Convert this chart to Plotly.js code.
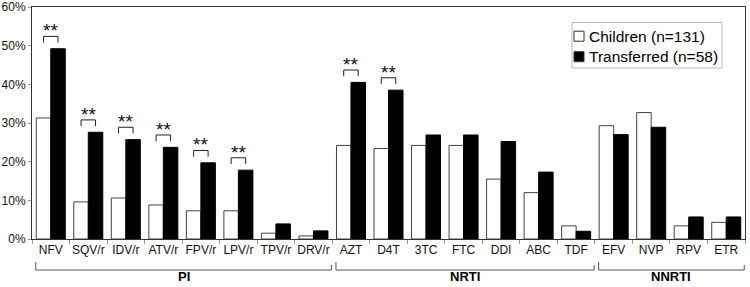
<!DOCTYPE html>
<html><head><meta charset="utf-8">
<script src="https://cdn.plot.ly/plotly-3.0.1.min.js"></script>
<style>html,body{margin:0;padding:0;background:#fff}#chart{width:750px;height:287px}</style>
</head><body><div id="chart"></div>
<script>
const categories = ['NFV','SQV/r','IDV/r','ATV/r','FPV/r','LPV/r','TPV/r','DRV/r','AZT','D4T','3TC','FTC','DDI','ABC','TDF','EFV','NVP','RPV','ETR'];
const children    = [31.3, 9.6, 10.6, 8.8, 7.3, 7.3, 1.5, 0.8, 24.2, 23.4, 24.2, 24.2, 15.5, 12.0, 3.4, 29.3, 32.7, 3.4, 4.3];
const transferred = [49.2, 27.6, 25.7, 23.7, 19.7, 17.8, 3.9, 2.1, 40.5, 38.5, 26.9, 26.9, 25.2, 17.3, 2.0, 27.0, 28.9, 5.7, 5.7];
const significant = [true,true,true,true,true,true,false,false,true,true,false,false,false,false,false,false,false,false,false];
const seriesNames = ['Children (n=131)','Transferred (n=58)'];
const groupNames = ['PI','NRTI','NNRTI'];
const groupSizes = [8,7,4];
const yTickVals = [0,10,20,30,40,50,60];
const yTickText = ['0%','10%','20%','30%','40%','50%','60%'];
const sigLabel = '**';

const W=750, H=287, M={l:32,r:5,t:7,b:48};
const PW = W-M.l-M.r, PH = H-M.t-M.b;
const nCat = categories.length;
const px = v => (v - M.l)/PW;
const py = v => (M.t+PH - v)/PH;
const catX = u => (u+0.5)/nCat;
const FONT = 'Liberation Sans, Arial, sans-serif';

const traces = [
  {type:'bar', x:categories, y:children, name:seriesNames[0], showlegend:false,
   marker:{color:'#ffffff', line:{color:'#444', width:1}}},
  {type:'bar', x:categories, y:transferred, name:seriesNames[1], showlegend:false,
   marker:{color:'#000000', line:{color:'#000', width:1}}}
];

const shapes = [];
const annotations = [];
const off = 0.193;
categories.forEach((c,i)=>{
  if(!significant[i]) return;
  const top = Math.max(children[i], transferred[i]) + 3.2;
  const L = {color:'#222', width:1};
  const xa = catX(i-off), xb = catX(i+off);
  shapes.push({type:'line', xref:'paper', yref:'y', x0:xa, x1:xb, y0:top, y1:top, line:L});
  shapes.push({type:'line', xref:'paper', yref:'y', x0:xa, x1:xa, y0:top-1.6, y1:top, line:L});
  shapes.push({type:'line', xref:'paper', yref:'y', x0:xb, x1:xb, y0:top-1.6, y1:top, line:L});
  annotations.push({xref:'paper', yref:'y', x:catX(i), y:top, yanchor:'bottom', xanchor:'center',
    text:sigLabel, showarrow:false, yshift:-7, font:{family:FONT, size:19, color:'#111'}});
});

let s = 0;
groupNames.forEach((g,k)=>{
  const e = s + groupSizes[k] - 1;
  const xl = catX(s-0.5+0.1), xr = catX(e+0.5-0.02);
  const L = {color:'#555', width:1};
  shapes.push({type:'line', xref:'paper', yref:'paper', x0:xl, x1:xr, y0:py(270), y1:py(270), line:L});
  shapes.push({type:'line', xref:'paper', yref:'paper', x0:xl, x1:xl, y0:py(262), y1:py(270), line:L});
  shapes.push({type:'line', xref:'paper', yref:'paper', x0:xr, x1:xr, y0:py(265), y1:py(270), line:L});
  annotations.push({xref:'paper', yref:'paper', x:(xl+xr)/2, y:py(276), xanchor:'center', yanchor:'middle',
    text:'<b>'+g+'</b>', showarrow:false, font:{family:FONT, size:13, color:'#000'}});
  s = e + 1;
});

// custom legend
shapes.push({type:'rect', xref:'paper', yref:'paper', x0:px(572), x1:px(722), y0:py(68), y1:py(22.5),
  line:{color:'#bbb', width:1}, fillcolor:'#fff'});
const rows = [36.2, 56.7];
const fills = ['#ffffff','#000000'];
seriesNames.forEach((n,k)=>{
  shapes.push({type:'rect', xref:'paper', yref:'paper', x0:px(574), x1:px(584), y0:py(rows[k]+5), y1:py(rows[k]-5),
    line:{color:'#333', width:1}, fillcolor:fills[k]});
  annotations.push({xref:'paper', yref:'paper', x:px(587), y:py(rows[k]), xanchor:'left', yanchor:'middle',
    text:n, showarrow:false, font:{family:FONT, size:15.5, color:'#000'}});
});

const layout = {
  width:W, height:H, margin:M, paper_bgcolor:'#fff', plot_bgcolor:'#fff',
  font:{family:FONT, size:12, color:'#111'},
  barmode:'group', bargap:0.227, bargroupgap:0,
  xaxis:{type:'category', range:[-0.5, nCat-0.5], showline:true, linecolor:'#333', linewidth:1, mirror:true,
    ticks:'outside', tickson:'boundaries', ticklen:4, tickcolor:'#999', showgrid:false, tickangle:0,
    tickfont:{family:FONT, size:12, color:'#111'}},
  yaxis:{range:[0,60], tickmode:'array', tickvals:yTickVals, ticktext:yTickText, showline:true, linecolor:'#333', linewidth:1, mirror:true,
    ticks:'outside', ticklen:3, tickcolor:'#999', showgrid:false, zeroline:false,
    tickfont:{family:FONT, size:12, color:'#111'}},
  shapes:shapes, annotations:annotations, showlegend:false
};
Plotly.newPlot('chart', traces, layout, {displayModeBar:false, staticPlot:true});
</script></body></html>
